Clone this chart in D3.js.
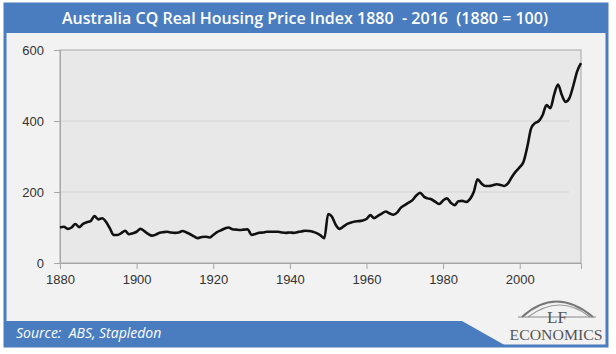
<!DOCTYPE html>
<html>
<head>
<meta charset="utf-8">
<script src="https://cdn.jsdelivr.net/npm/d3@7"></script>
<style>
  body { margin: 0; background: #fff; }
  svg { display: block; }
  text { white-space: pre; }
</style>
</head>
<body>
<div id="graph"></div>
<script>
const width = 616
const height = 354

// data (1880 = 100)
const years = d3.range(1880, 2017)
const values = [
  100, 102, 96, 100, 110, 101, 110, 115, 118, 132,
  123, 126, 116, 98, 79, 79, 84, 91, 81, 84,
  88, 96, 90, 82, 77, 80, 85, 87, 88, 86,
  85, 86, 90, 86, 81, 75, 70, 73, 74, 72,
  79, 87, 92, 97, 100, 95, 94, 93, 94, 95,
  79, 82, 85, 86, 88, 88, 88, 88, 86, 85,
  86, 85, 87, 89, 91, 90, 88, 84, 78, 70,
  138, 130, 107, 96, 103, 110, 114, 117, 118, 120,
  124, 135, 126, 133, 139, 145, 140, 136, 142, 156,
  163, 170, 177, 190, 198, 187, 182, 179, 172, 166,
  176, 182, 170, 163, 174, 175, 172, 180, 200, 236,
  224, 217, 217, 219, 222, 220, 217, 225, 243, 258,
  270, 285, 328, 380, 394, 400, 417, 445, 436, 475,
  503, 473, 454, 465, 500, 540, 563
]
const xTicks = [1880, 1900, 1920, 1940, 1960, 1980, 2000]
const yTicks = [0, 200, 400, 600]
const gridTicks = [200, 400]

const titleText = 'Australia CQ Real Housing Price Index 1880  - 2016  (1880 = 100)'
const sourceText = 'Source:  ABS, Stapledon'

const blue = '#4a7dbf'
const plot = {left: 60, right: 581, top: 50, bottom: 263}

const svg = d3.select('#graph')
  .append('svg')
  .attr('width', width)
  .attr('height', height)

// frame
svg.append('rect')
  .attr('x', 5).attr('y', 4)
  .attr('width', 602).attr('height', 342)
  .attr('fill', '#f2f2f2')
  .attr('stroke', blue)
  .attr('stroke-width', 3)

svg.append('rect')
  .attr('x', 4).attr('y', 3)
  .attr('width', 604).attr('height', 30)
  .attr('fill', blue)

svg.append('text')
  .attr('x', 305).attr('y', 24)
  .attr('text-anchor', 'middle')
  .attr('fill', '#fff')
  .attr('font-family', 'Open Sans, sans-serif')
  .attr('font-weight', 600)
  .attr('font-size', 15.5)
  .attr('textLength', 486)
  .attr('lengthAdjust', 'spacingAndGlyphs')
  .text(titleText)

// footer band with slanted end
svg.append('path')
  .attr('d', 'M4,321 L462,321 L508,347 L4,347 Z')
  .attr('fill', blue)

svg.append('text')
  .attr('x', 16).attr('y', 338)
  .attr('fill', '#fff')
  .attr('font-family', 'Open Sans, sans-serif')
  .attr('font-style', 'italic')
  .attr('font-size', 14)
  .text(sourceText)

// logo
const logo = svg.append('g')
logo.append('path')
  .attr('d', 'M522,317 Q556,286 593,317')
  .attr('fill', 'none').attr('stroke', '#777').attr('stroke-width', 2)
logo.append('path')
  .attr('d', 'M528,317 Q560,293 590,317')
  .attr('fill', 'none').attr('stroke', '#999').attr('stroke-width', 1.2)
logo.append('path')
  .attr('d', 'M518,317 L596,317')
  .attr('stroke', '#888').attr('stroke-width', 1)
logo.append('text')
  .attr('x', 557).attr('y', 323)
  .attr('text-anchor', 'middle')
  .attr('fill', '#555')
  .attr('font-family', 'Liberation Serif, serif')
  .attr('font-size', 17)
  .text('LF')
logo.append('text')
  .attr('x', 556).attr('y', 340)
  .attr('text-anchor', 'middle')
  .attr('fill', '#555')
  .attr('font-family', 'Liberation Serif, serif')
  .attr('font-size', 15)
  .attr('textLength', 93)
  .attr('lengthAdjust', 'spacingAndGlyphs')
  .text('ECONOMICS')

// plot area
const xScale = d3.scaleLinear().domain([1880, 2016]).range([plot.left, plot.right])
const yScale = d3.scaleLinear().domain([0, 600]).range([plot.bottom, plot.top])

svg.append('rect')
  .attr('x', plot.left).attr('y', plot.top)
  .attr('width', plot.right - plot.left).attr('height', plot.bottom - plot.top)
  .attr('fill', '#e8e8e8')
  .attr('stroke', '#a6a6a6')
  .attr('stroke-width', 1)

svg.append('g')
  .selectAll('line')
  .data(gridTicks)
  .join('line')
  .attr('x1', plot.left).attr('x2', plot.right - 12)
  .attr('y1', d => yScale(d)).attr('y2', d => yScale(d))
  .attr('stroke', '#d4d4d4')

const yAxis = svg.append('g')
  .attr('transform', `translate(${plot.left},0)`)
  .call(d3.axisLeft(yScale).tickValues(yTicks).tickSize(6).tickPadding(10).tickFormat(d3.format('d')))
const xAxis = svg.append('g')
  .attr('transform', `translate(0,${plot.bottom})`)
  .call(d3.axisBottom(xScale).tickValues(xTicks).tickSize(6).tickPadding(6).tickFormat(d3.format('d')))

for (const ax of [xAxis, yAxis]) {
  ax.select('.domain').attr('stroke', '#a6a6a6')
  ax.selectAll('line').attr('stroke', '#a6a6a6')
  ax.selectAll('text')
    .attr('fill', '#333')
    .attr('font-family', 'Liberation Sans, Arial, sans-serif')
    .attr('font-size', 13)
}

const line = d3.line()
  .x((d, i) => xScale(years[i]))
  .y(d => yScale(d))
  .curve(d3.curveMonotoneX)

svg.append('path')
  .datum(values)
  .attr('d', line)
  .attr('fill', 'none')
  .attr('stroke', '#111')
  .attr('stroke-width', 2.6)
  .attr('stroke-linejoin', 'round')
</script>
</body>
</html>
